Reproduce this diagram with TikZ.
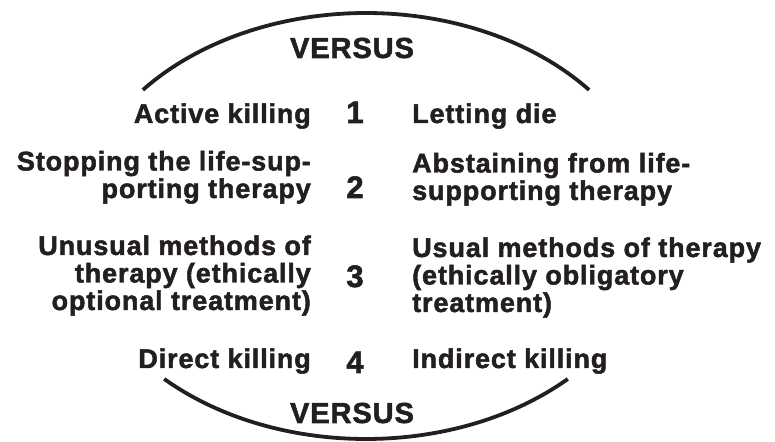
\documentclass[tikz,border=0pt]{standalone}
\usepackage{fontspec}
\newfontfamily\heavysans{Liberation Sans Bold}[LetterSpace=3.2, FakeBold=1.8]
\definecolor{ink}{HTML}{231F20}
\begin{document}
\begin{tikzpicture}[x=1pt,y=1pt,
  lefttext/.style={anchor=base east, align=right, inner sep=0pt, text=ink,
    font=\heavysans\fontsize{27}{27.5}\selectfont},
  righttext/.style={anchor=base west, align=left, inner sep=0pt, text=ink,
    font=\heavysans\fontsize{27}{27.5}\selectfont},
  numtext/.style={anchor=base, inner sep=0pt, text=ink,
    font=\heavysans\fontsize{31}{31}\selectfont},
  versustext/.style={anchor=base, inner sep=0pt, text=ink,
    font=\heavysans\fontsize{29}{29}\selectfont},
  arcline/.style={draw=ink, line width=3.8pt}]
\useasboundingbox (0,0) rectangle (775,441);
\coordinate (c) at (366,215);
\draw[arcline] ([shift={(140.3:290 and 213)}]c) arc[start angle=140.3, end angle=39.7, x radius=290, y radius=213];
\draw[arcline] ([shift={(-134.1:290 and 213)}]c) arc[start angle=-134.1, end angle=-45.9, x radius=290, y radius=213];
\node[versustext] (vtop) at (352,383) {VERSUS};
\node[versustext] (vbot) at (352,18) {VERSUS};
\node[numtext] (n1) at (355,318) {1};
\node[numtext] (n2) at (355,243) {2};
\node[numtext] (n3) at (355,154) {3};
\node[numtext] (n4) at (355,68) {4};
\node[lefttext] (l1) at (311,318) {Active killing};
\node[righttext] (r1) at (412,318) {Letting die};
\node[lefttext] (l2) at (311,243) {Stopping the life-sup-\\porting therapy};
\node[righttext] (r2) at (412,241) {Abstaining from life-\\supporting therapy};
\node[lefttext] (l3) at (311,131) {Unusual methods of\\therapy (ethically\\optional treatment)};
\node[righttext] (r3) at (412,129) {Usual methods of therapy\\(ethically obligatory\\treatment)};
\node[lefttext] (l4) at (311,73) {Direct killing};
\node[righttext] (r4) at (412,73) {Indirect killing};
\end{tikzpicture}
\end{document}
